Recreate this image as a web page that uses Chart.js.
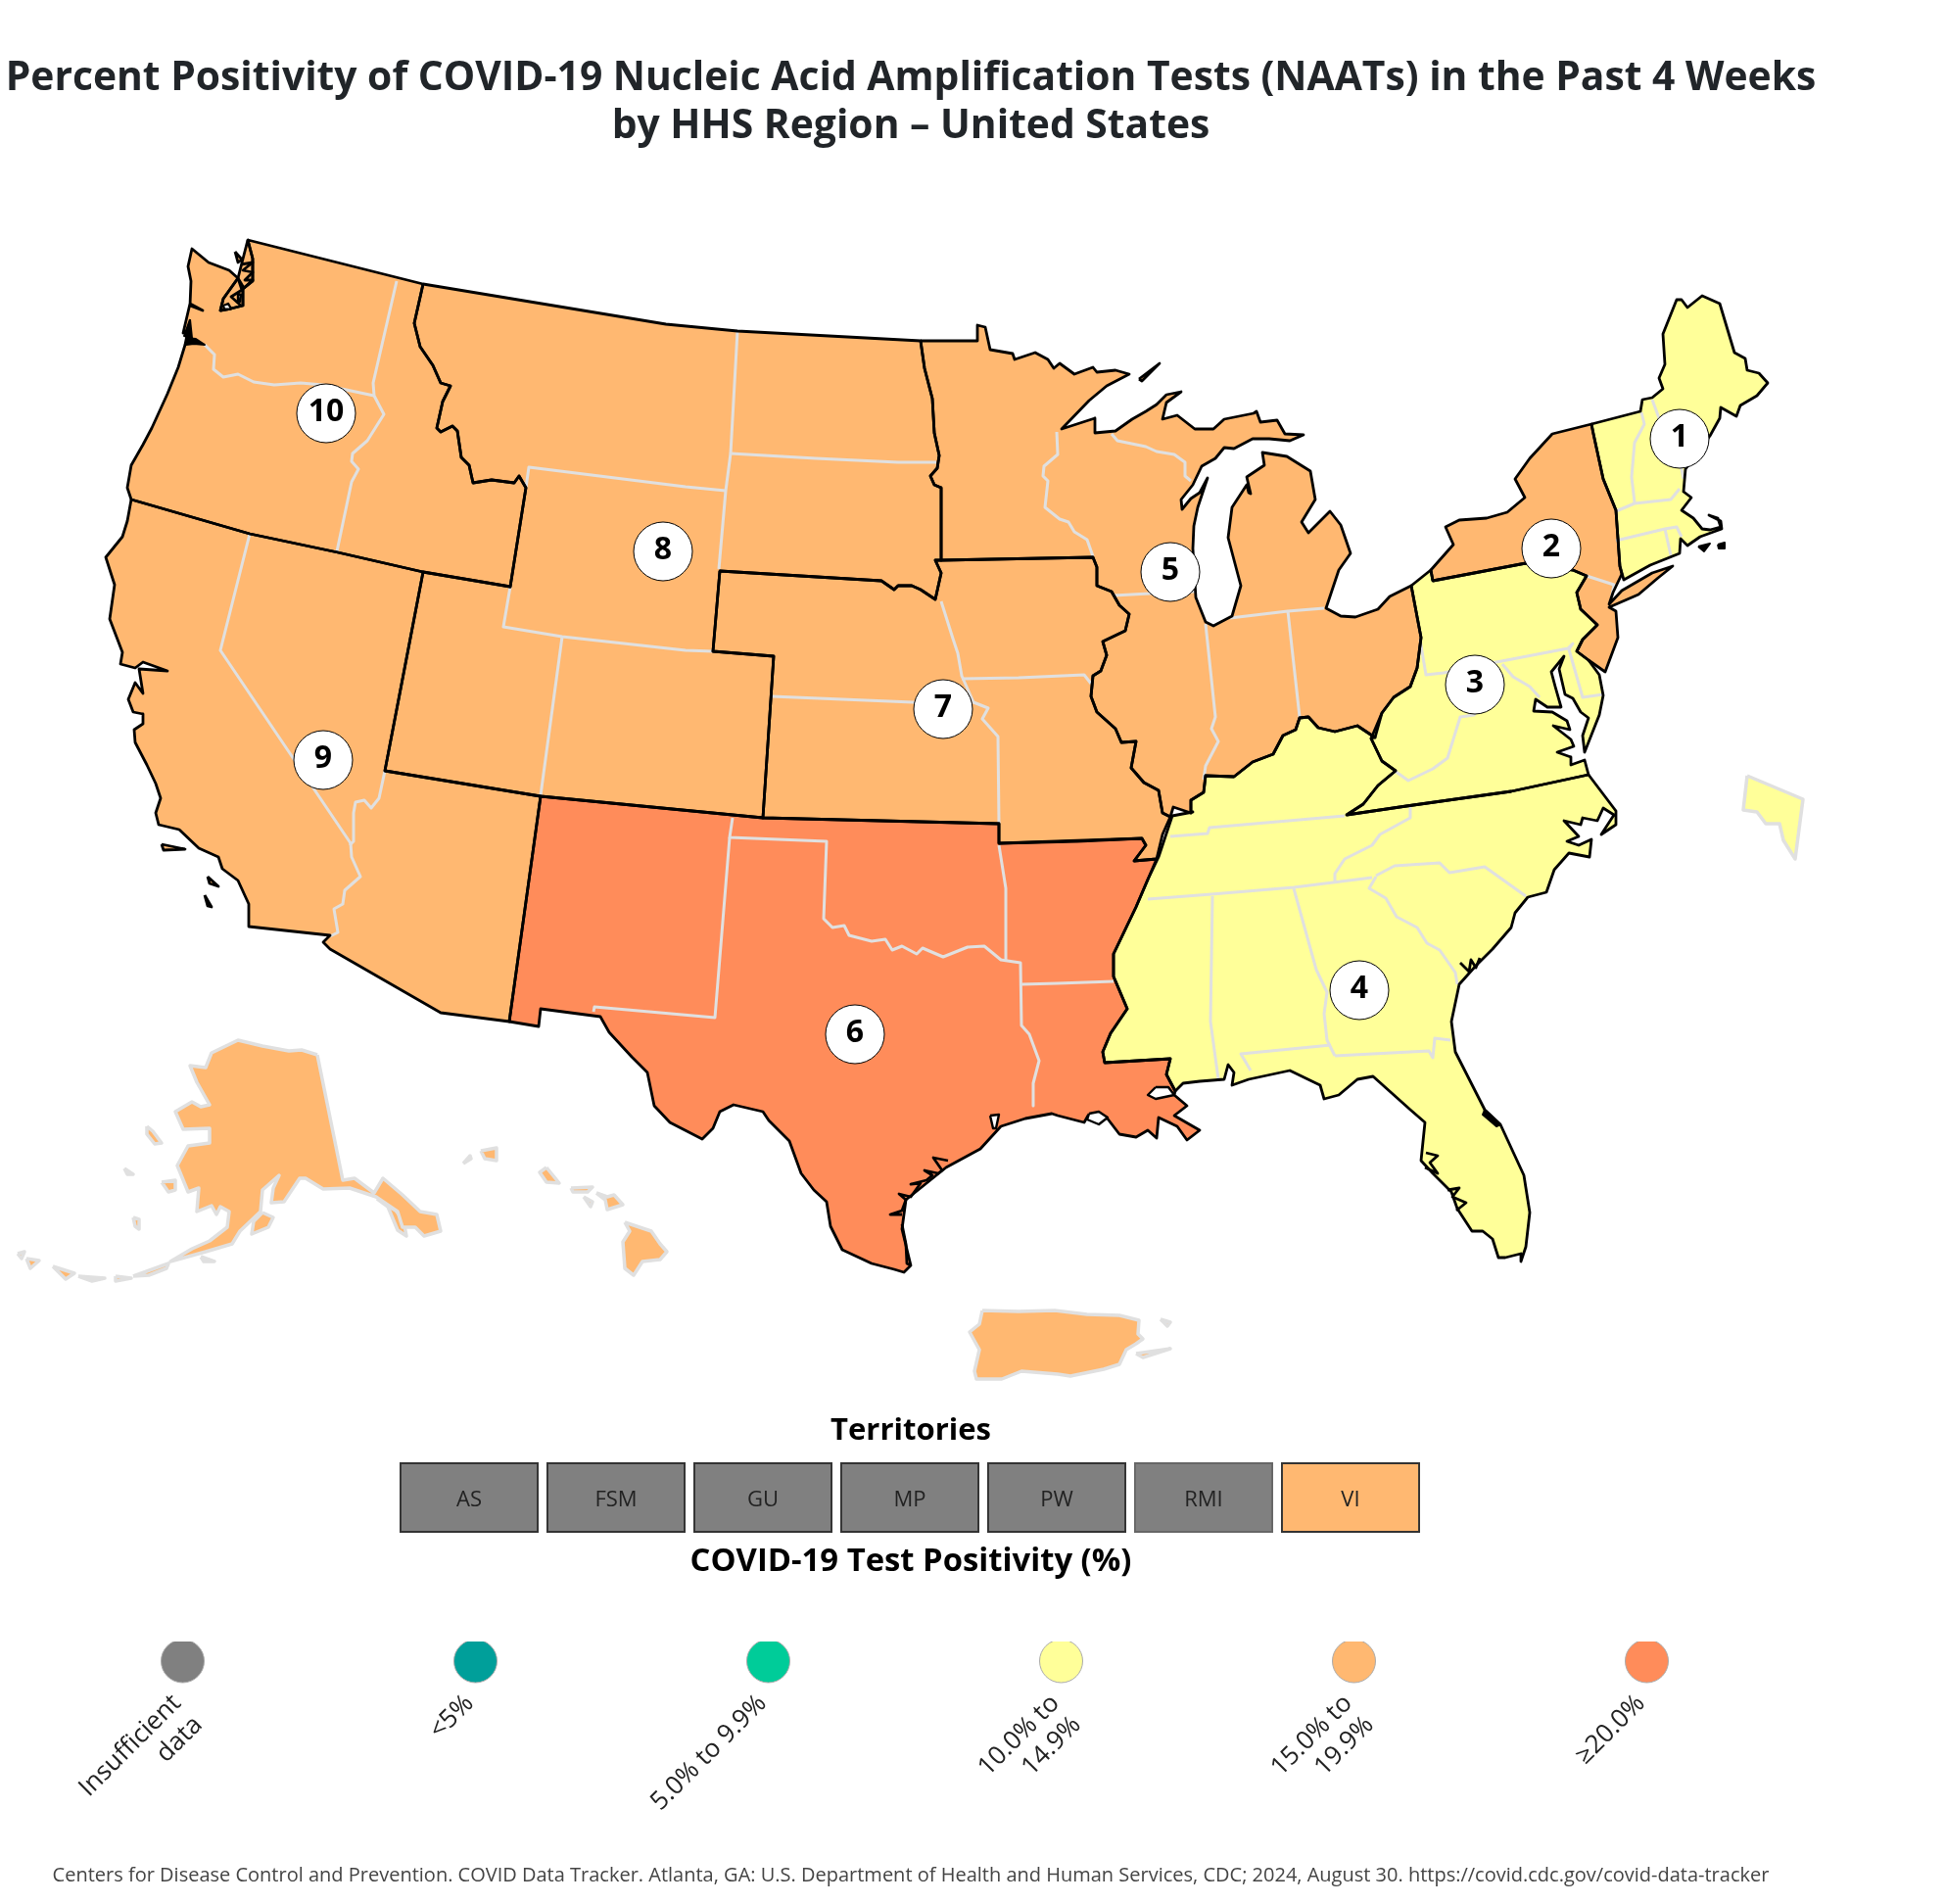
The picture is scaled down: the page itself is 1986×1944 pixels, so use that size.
<!DOCTYPE html>
<html>
<head>
<meta charset="utf-8">
<script src="https://cdn.jsdelivr.net/npm/chart.js@4/dist/chart.umd.js"></script>
<style>
  html, body { margin: 0; padding: 0; background: #fff; }
  body { position: relative; width: 1986px; height: 1944px; overflow: hidden; font-family: "Open Sans", sans-serif; }
  canvas { position: absolute; }
  .txt { position: absolute; left: 0; width: 1860px; text-align: center; white-space: nowrap; margin: 0; }
  #title { top: 52px; font-size: 40.8px; line-height: 49.4px; font-weight: 700; color: #212529; }
  .head { line-height: 40px; font-weight: 700; color: #000; }
  #terrHead { top: 1438px; font-size: 31px; }
  #posHead { top: 1572px; font-size: 32.8px; }
  #foot { top: 1901px; font-size: 20px; line-height: 26px; color: #444; }
</style>
</head>
<body>
<canvas id="mapChart" width="1986" height="1944" style="left:0;top:0"></canvas>
<canvas id="terrChart" width="1050" height="76" style="left:404px;top:1491px"></canvas>
<canvas id="legendChart" width="1794" height="210" style="left:37px;top:1676px"></canvas>
<h1 id="title" class="txt">Percent Positivity of COVID-19 Nucleic Acid Amplification Tests (NAATs) in the Past 4 Weeks<br>by HHS Region – United States</h1>
<div id="terrHead" class="txt head">Territories</div>
<div id="posHead" class="txt head">COVID-19 Test Positivity (%)</div>
<div id="foot" class="txt">Centers for Disease Control and Prevention. COVID Data Tracker. Atlanta, GA: U.S. Department of Health and Human Services, CDC; 2024, August 30. https://covid.cdc.gov/covid-data-tracker</div>
<script>
// legend bins
const legendLabels = [["Insufficient", "data"], "<5%", "5.0% to 9.9%", ["10.0% to", "14.9%"], ["15.0% to", "19.9%"], "≥20.0%"];
const legendColors = ["#808080", "#009f9a", "#00cc99", "#ffff99", "#ffb871", "#ff8c5a"];
const legendDots = [1, 1, 1, 1, 1, 1];

// bin index per HHS region, 1 to 10
const regionBins = [3, 4, 3, 3, 4, 5, 4, 4, 4, 4];
const regionNumbers = ["1", "2", "3", "4", "5", "6", "7", "8", "9", "10"];
const regionMarkX = [1715, 1584, 1506, 1388, 1195, 873, 963, 677, 330, 333];
const regionMarkY = [448, 560, 699, 1011, 584, 1056, 724, 563, 776, 422];

// territories row
const territoryLabels = ["AS", "FSM", "GU", "MP", "PW", "RMI", "VI"];
const territoryBins = [0, 0, 0, 0, 0, 0, 4];
const territoryHeights = [1, 1, 1, 1, 1, 1, 1];

// region outlines
const region1 = [[1625,433],[1675,420],[1677,408],[1687,406],[1698,397],[1694,386],[1700,372],[1698,341],[1712,306],[1717,306],[1723,314],[1738,302],[1756,310],[1771,360],[1782,366],[1784,378],[1796,381],[1805,391],[1794,404],[1777,414],[1773,425],[1757,416],[1756,427],[1746,445],[1721,479],[1719,502],[1727,508],[1717,521],[1729,529],[1738,540],[1746,541],[1757,538],[1754,529],[1745,526],[1757,532],[1758,540],[1736,548],[1723,557],[1716,550],[1715,565],[1685,577],[1658,592],[1654,578],[1650,521],[1637,489],[1627,443]];
const marthasVineyard = [[1734,558],[1746,555],[1740,563]];
const nantucket = [[1754,556],[1761,554],[1761,560],[1755,560]];
const region2 = [[1463,593],[1461,582],[1484,556],[1476,538],[1490,531],[1518,529],[1539,523],[1557,508],[1547,489],[1562,468],[1585,443],[1625,433],[1627,443],[1637,489],[1650,521],[1654,578],[1656,586],[1647,605],[1643,617],[1656,603],[1687,585],[1708,578],[1693,590],[1673,607],[1643,620],[1650,624],[1652,651],[1639,686],[1622,674],[1610,665],[1616,653],[1631,638],[1614,622],[1610,605],[1620,588],[1606,582],[1558,575]];
const region3 = [[1441,598],[1461,582],[1463,593],[1558,575],[1606,582],[1620,588],[1610,605],[1614,622],[1631,638],[1616,653],[1610,665],[1622,674],[1633,689],[1637,710],[1633,730],[1618,768],[1616,751],[1622,733],[1614,727],[1606,713],[1598,709],[1592,683],[1597,670],[1584,686],[1588,701],[1594,722],[1580,722],[1568,714],[1566,726],[1585,727],[1600,736],[1603,745],[1586,741],[1604,755],[1607,762],[1590,768],[1604,773],[1604,781],[1618,776],[1622,791],[1543,808],[1436,823],[1375,832],[1392,821],[1407,802],[1425,787],[1411,777],[1400,754],[1411,728],[1423,712],[1440,701],[1447,682],[1451,651]];
const region4 = [[1375,832],[1436,823],[1543,808],[1622,791],[1650,828],[1650,842],[1635,852],[1648,832],[1637,825],[1631,838],[1616,835],[1614,842],[1597,838],[1612,854],[1600,859],[1612,863],[1625,857],[1623,875],[1602,871],[1587,888],[1579,911],[1560,916],[1547,932],[1543,947],[1524,969],[1507,986],[1490,1005],[1482,1043],[1486,1074],[1516,1133],[1532,1148],[1556,1200],[1562,1238],[1558,1273],[1553,1288],[1553,1280],[1537,1284],[1530,1284],[1524,1265],[1514,1257],[1503,1257],[1488,1234],[1482,1217],[1463,1198],[1451,1185],[1455,1146],[1440,1133],[1421,1116],[1402,1099],[1386,1102],[1367,1118],[1352,1122],[1348,1108],[1317,1093],[1275,1102],[1258,1108],[1260,1095],[1254,1087],[1250,1102],[1225,1104],[1208,1106],[1200,1114],[1191,1097],[1195,1081],[1128,1085],[1126,1074],[1134,1055],[1151,1030],[1137,997],[1137,974],[1160,926],[1172,898],[1183,875],[1197,833],[1218,829],[1216,830],[1216,817],[1229,809],[1231,792],[1260,793],[1279,778],[1300,770],[1310,751],[1323,745],[1327,733],[1336,732],[1346,743],[1363,747],[1386,741],[1404,753],[1400,754],[1411,777],[1425,787],[1407,802],[1392,821]];
const indianRiver = [[1516,1133],[1532,1148],[1528,1150],[1514,1138]];
const tampaBay = [[1456,1177],[1468,1180],[1460,1187],[1468,1198],[1455,1192]];
const charlotteHarbor = [[1478,1215],[1490,1213],[1483,1222],[1497,1228],[1487,1236]];
const georgiaSounds = [[1491,983],[1500,992],[1502,980],[1507,988],[1511,978]];
const region5 = [[940,348],[998,348],[998,332],[1006,334],[1011,357],[1034,361],[1036,367],[1057,360],[1070,367],[1076,376],[1082,371],[1097,382],[1116,375],[1120,380],[1139,378],[1153,382],[1130,394],[1112,409],[1084,438],[1118,427],[1118,442],[1139,440],[1156,428],[1170,420],[1181,413],[1191,403],[1206,400],[1191,411],[1187,428],[1202,424],[1220,438],[1239,438],[1250,428],[1280,422],[1283,420],[1287,431],[1304,429],[1312,443],[1331,444],[1317,450],[1296,448],[1279,448],[1260,458],[1250,457],[1241,468],[1227,476],[1218,495],[1206,510],[1207,520],[1216,509],[1225,503],[1233,488],[1223,518],[1219,537],[1218,560],[1221,610],[1231,635],[1239,639],[1258,629],[1267,598],[1254,549],[1258,518],[1273,495],[1275,503],[1277,504],[1273,487],[1291,475],[1289,462],[1314,466],[1338,481],[1343,510],[1329,533],[1336,544],[1358,522],[1369,536],[1379,565],[1367,582],[1354,621],[1369,629],[1384,630],[1407,622],[1419,609],[1441,598],[1451,651],[1447,682],[1440,701],[1423,712],[1411,728],[1404,753],[1386,741],[1363,747],[1346,743],[1336,732],[1327,733],[1323,745],[1310,751],[1300,770],[1279,778],[1260,793],[1231,792],[1229,809],[1216,817],[1216,830],[1198,824],[1195,834],[1187,830],[1183,807],[1168,799],[1155,784],[1160,757],[1145,758],[1139,744],[1120,727],[1114,711],[1116,690],[1124,685],[1130,669],[1126,655],[1149,644],[1153,627],[1143,618],[1135,604],[1120,598],[1120,579],[1116,569],[961,572],[961,498],[954,495],[950,486],[957,478],[959,465],[954,442],[952,407],[944,376]];
const isleRoyale = [[1163,387],[1184,371],[1173,382],[1166,389]];
const region6 = [[552,813],[779,835],[1020,841],[1020,861],[1100,859],[1166,856],[1170,863],[1158,879],[1181,877],[1172,898],[1160,926],[1137,974],[1137,997],[1151,1030],[1134,1055],[1126,1074],[1128,1085],[1195,1081],[1191,1097],[1200,1114],[1199,1118],[1212,1129],[1199,1139],[1225,1154],[1212,1164],[1202,1150],[1183,1141],[1181,1162],[1172,1154],[1160,1161],[1143,1158],[1130,1141],[1111,1139],[1107,1146],[1080,1139],[1074,1137],[1047,1142],[1022,1150],[1001,1173],[966,1192],[925,1225],[921,1255],[930,1292],[923,1299],[913,1296],[890,1290],[860,1276],[848,1252],[844,1227],[831,1215],[818,1198],[806,1165],[785,1144],[779,1135],[749,1128],[735,1135],[728,1152],[717,1163],[684,1146],[668,1129],[661,1095],[645,1079],[622,1054],[613,1038],[552,1030],[550,1048],[520,1043]];
const pontchartrain = [[1180,1110],[1172,1118],[1180,1122],[1199,1118],[1193,1110]];
const vermilionBay = [[1112,1137],[1122,1135],[1131,1141],[1122,1148],[1110,1143]];
const sabineLake = [[1011,1139],[1020,1138],[1017,1152],[1014,1152]];
const texasBays = [[921,1240],[909,1240],[921,1236],[925,1225],[918,1219],[930,1222],[940,1208],[930,1209],[946,1205],[952,1200],[944,1195],[958,1198],[962,1195],[953,1182],[968,1185]];
const padreIsland = [[921,1250],[925,1270],[926,1290],[930,1292]];
const region7 = [[735,583],[900,593],[913,602],[917,598],[931,598],[940,602],[955,612],[961,585],[955,572],[961,572],[1116,569],[1120,579],[1120,598],[1135,604],[1143,618],[1153,627],[1149,644],[1126,655],[1130,669],[1124,685],[1116,690],[1114,711],[1120,727],[1139,744],[1145,758],[1160,757],[1155,784],[1168,799],[1183,807],[1187,830],[1195,834],[1187,852],[1181,877],[1158,879],[1170,863],[1166,856],[1020,861],[1020,841],[779,835],[790,670],[728,665]];
const region8 = [[432,290],[680,331],[753,338],[940,348],[944,376],[952,407],[954,442],[959,465],[957,478],[950,486],[954,495],[961,498],[961,572],[955,572],[961,585],[955,612],[940,602],[931,598],[917,598],[913,602],[900,593],[735,583],[728,665],[790,670],[779,835],[552,813],[393,787],[432,584],[521,599],[537,498],[530,486],[525,493],[502,490],[483,493],[479,475],[471,467],[467,440],[462,435],[450,441],[446,437],[452,410],[460,394],[450,391],[442,373],[429,354],[423,330]];
const region9 = [[134,510],[130,532],[125,548],[108,569],[117,597],[112,632],[125,666],[123,678],[138,682],[146,676],[171,685],[142,683],[146,708],[138,697],[131,714],[136,727],[146,729],[146,739],[137,745],[138,758],[150,781],[159,800],[164,815],[159,830],[162,842],[183,847],[203,866],[223,875],[227,887],[243,899],[254,923],[254,946],[337,955],[330,962],[337,969],[450,1034],[520,1043],[552,813],[393,787],[432,584],[345,564],[255,545]];
const channelIsland1 = [[165,862],[189,867],[167,868]];
const channelIsland2 = [[212,895],[223,905],[214,902]];
const channelIsland3 = [[209,914],[216,926],[212,925]];
const region10 = [[253,245],[432,290],[423,330],[429,354],[442,373],[450,391],[460,394],[452,410],[446,437],[450,441],[462,435],[467,440],[471,467],[479,475],[483,493],[502,490],[525,493],[530,486],[537,498],[521,599],[432,584],[345,564],[255,545],[134,510],[130,498],[134,475],[146,454],[155,437],[171,402],[182,375],[189,352],[192,337],[187,340],[194,310],[207,317],[194,312],[195,287],[192,272],[196,254],[213,268],[234,276],[243,284],[228,305],[225,317],[236,315],[248,312],[248,295],[258,287],[258,264]];
const sanJuan = [[240,257],[247,265],[243,268]];
const pugetMesh = [[246,270],[258,268],[248,276],[258,278],[250,286],[258,286],[249,294],[243,284],[247,296],[236,303],[246,312]];
const pugetHole1 = [[228,312],[233,310],[236,315],[229,316]];
const pugetHole2 = [[243,300],[246,301],[245,308],[243,307]];
const willapaBay = [[194,326],[196,345],[188,343]];
const columbiaMouth = [[190,345],[200,346],[209,352],[198,351],[190,352]];

// inner state lines
const stateLines = [
  [[209,352],[219,362],[218,377],[228,385],[243,382],[259,390],[280,393],[307,391],[330,393],[382,404]],
  [[405,287],[381,391],[382,404],[392,423],[375,450],[360,463],[359,471],[366,479],[359,492],[344,563]],
  [[753,338],[746,463],[741,501],[734,581]],
  [[746,463],[833,468],[917,472],[956,472]],
  [[537,498],[540,477],[700,497],[741,501]],
  [[521,599],[514,640],[574,650],[700,664],[728,665]],
  [[574,650],[552,812]],
  [[961,614],[973,652],[978,667],[982,690],[994,717],[1009,723],[1003,734],[1019,752],[1020,841]],
  [[982,693],[1040,692],[1107,689],[1114,698]],
  [[788,711],[932,717],[986,719]],
  [[1079,441],[1080,464],[1066,476],[1065,486],[1070,491],[1067,518],[1082,530],[1091,533],[1097,543],[1110,551],[1116,568]],
  [[1135,443],[1141,450],[1170,456],[1181,461],[1199,464],[1210,472],[1210,486],[1216,491]],
  [[1137,608],[1174,606],[1220,604]],
  [[1231,637],[1241,732],[1237,744],[1244,757],[1231,782],[1229,796]],
  [[1256,631],[1315,624],[1352,621]],
  [[1315,624],[1327,732]],
  [[1450,653],[1456,689],[1474,687],[1528,676],[1601,662],[1606,657],[1602,663],[1616,712],[1637,709]],
  [[1534,678],[1545,691],[1562,701],[1572,712]],
  [[1535,689],[1505,730],[1491,732],[1478,774],[1463,785],[1438,797],[1424,787]],
  [[1620,588],[1648,597],[1645,613]],
  [[1676,421],[1679,433],[1669,452],[1666,487],[1669,513]],
  [[1687,408],[1694,427],[1717,479],[1719,489]],
  [[1650,522],[1669,514],[1706,510],[1715,499]],
  [[1650,552],[1700,540],[1712,538],[1717,548]],
  [[1700,540],[1706,567]],
  [[1195,854],[1233,851],[1235,845],[1373,833]],
  [[1440,825],[1440,835],[1409,852],[1401,863],[1373,877],[1363,892],[1363,900]],
  [[1172,918],[1237,913],[1321,906],[1401,896]],
  [[1238,915],[1236,1043],[1244,1102]],
  [[1321,907],[1344,990],[1355,1013],[1352,1035],[1355,1062],[1363,1078]],
  [[1277,1093],[1267,1076],[1359,1067]],
  [[1363,1078],[1459,1073],[1463,1080],[1465,1060],[1481,1062]],
  [[1405,894],[1424,884],[1470,881],[1480,891],[1516,885],[1558,915]],
  [[1405,895],[1398,907],[1415,917],[1426,936],[1447,947],[1457,963],[1470,970],[1486,993],[1488,1005]],
  [[748,835],[745,855],[844,859],[841,938],[850,947],[862,945],[867,955],[890,961],[904,959],[911,970],[921,966],[936,974],[942,968],[963,977],[988,967],[1005,966],[1022,980],[1042,983],[1043,1047],[1051,1056],[1061,1083],[1055,1106],[1055,1129]],
  [[745,855],[730,1039],[607,1028],[606,1033]],
  [[1020,863],[1027,907],[1027,980]],
  [[1043,1005],[1080,1004],[1137,1002]],
  [[255,545],[225,664],[358,861],[359,875],[368,895],[352,909],[350,923],[341,928],[345,952],[337,956]],
  [[393,787],[387,815],[379,825],[372,817],[363,819],[361,830],[361,859],[357,863]]
];

// Alaska, Hawaii, Puerto Rico, Virgin Islands and the DC inset
const alaskaBin = 4;
const alaskaParts = [
  [[324,1077],[350,1205],[362,1203],[382,1218],[391,1203],[411,1220],[429,1237],[446,1240],[450,1257],[433,1262],[424,1253],[411,1253],[406,1237],[384,1222],[357,1213],[330,1214],[312,1203],[306,1203],[290,1227],[277,1228],[279,1213],[285,1200],[268,1215],[266,1237],[245,1257],[237,1270],[210,1278],[174,1288],[196,1275],[214,1267],[232,1253],[234,1237],[225,1232],[221,1240],[216,1231],[201,1237],[203,1213],[192,1217],[181,1190],[192,1170],[214,1167],[214,1152],[187,1153],[179,1135],[196,1125],[205,1130],[214,1128],[201,1105],[194,1088],[210,1090],[216,1075],[243,1062],[268,1068],[295,1073],[308,1072]],
  [[385,1224],[396,1232],[406,1256],[415,1262],[412,1246],[404,1236]],
  [[268,1238],[279,1243],[274,1253],[257,1260],[259,1247]],
  [[150,1150],[156,1155],[165,1167],[158,1168],[150,1158]],
  [[165,1207],[179,1205],[179,1215],[172,1217]],
  [[54,1293],[76,1300],[67,1306]],
  [[80,1303],[107,1305],[94,1308]],
  [[118,1303],[134,1305],[118,1308]],
  [[136,1303],[172,1290],[170,1295],[152,1302]],
  [[18,1280],[25,1278],[22,1285]],
  [[27,1285],[40,1287],[31,1295]],
  [[127,1193],[136,1199],[130,1199]],
  [[136,1243],[142,1245],[142,1255],[138,1252]],
  [[205,1283],[219,1288],[208,1288]]
];
const hawaiiBin = 4;
const hawaiiParts = [
  [[638,1248],[665,1257],[674,1270],[681,1278],[674,1286],[656,1288],[647,1302],[638,1295],[636,1268],[643,1257]],
  [[609,1218],[620,1222],[627,1220],[636,1230],[620,1235],[618,1225]],
  [[583,1213],[605,1212],[600,1217],[585,1217]],
  [[596,1222],[605,1227],[603,1232]],
  [[558,1192],[567,1203],[571,1208],[558,1207],[551,1197]],
  [[491,1175],[507,1172],[507,1185],[495,1183]],
  [[473,1188],[480,1180],[481,1183]]
];
const puertoRicoBin = 4;
const puertoRicoParts = [
  [[1003,1338],[1040,1339],[1077,1338],[1110,1342],[1143,1343],[1163,1348],[1162,1362],[1167,1367],[1160,1372],[1150,1378],[1143,1393],[1127,1398],[1093,1405],[1080,1403],[1043,1400],[1023,1408],[997,1408],[995,1400],[1000,1378],[990,1360],[1000,1352]],
  [[1160,1382],[1195,1377],[1167,1386]],
  [[1185,1347],[1195,1350],[1192,1354]]
];
const dcBin = 3;
const dcInset = [[1784,792],[1841,816],[1833,877],[1821,858],[1817,841],[1803,841],[1794,829],[1780,827]];

function toPoints(list, close) {
  const pts = list.map(function (p) { return { x: p[0], y: p[1] }; });
  if (close) pts.push(pts[0]);
  return pts;
}

function shape(list, color, line, lineWidth, order) {
  return {
    type: "scatter",
    data: toPoints(list, true),
    showLine: true,
    fill: "shape",
    backgroundColor: color,
    borderColor: line,
    borderWidth: lineWidth,
    borderJoinStyle: "round",
    pointRadius: 0,
    tension: 0,
    clip: false,
    order: order,
  };
}

function stroke(list, line, lineWidth, order) {
  return {
    type: "scatter",
    data: toPoints(list, false),
    showLine: true,
    fill: false,
    borderColor: line,
    borderWidth: lineWidth,
    borderJoinStyle: "round",
    pointRadius: 0,
    tension: 0,
    clip: false,
    order: order,
  };
}

const BLACK = "#000000";
const GREY = "#e0e0e0";
const regions = [region1, region2, region3, region4, region5, region6, region7, region8, region9, region10];

const mapDatasets = [];
// fills first, then grey state lines, then black region lines
regions.forEach(function (r, i) {
  mapDatasets.push(shape(r, legendColors[regionBins[i]], legendColors[regionBins[i]], 1, 6));
  mapDatasets.push(shape(r, "rgba(0,0,0,0)", BLACK, 2.8, 3));
});
stateLines.forEach(function (l) {
  mapDatasets.push(stroke(l, GREY, 3, 4));
});
// puget sound is mostly land colour behind its mesh of shoreline
mapDatasets.push(shape([[243,284],[228,305],[225,317],[236,315],[248,312],[248,295],[258,287],[258,264],[253,245]], legendColors[4], BLACK, 2.8, 3));
[marthasVineyard, nantucket, willapaBay, columbiaMouth, indianRiver].forEach(function (p) {
  mapDatasets.push(shape(p, BLACK, BLACK, 2, 2));
});
[channelIsland1, channelIsland2, channelIsland3, sanJuan, isleRoyale].forEach(function (p) {
  mapDatasets.push(shape(p, legendColors[4], BLACK, 2.8, 2));
});
[pontchartrain, vermilionBay, sabineLake, pugetHole1, pugetHole2].forEach(function (p) {
  mapDatasets.push(shape(p, "#ffffff", BLACK, 2.4, 2));
});
[texasBays, padreIsland, pugetMesh, tampaBay, charlotteHarbor, georgiaSounds].forEach(function (l) {
  mapDatasets.push(stroke(l, BLACK, 2.8, 2));
});
alaskaParts.forEach(function (p) { mapDatasets.push(shape(p, legendColors[alaskaBin], GREY, 3.5, 5)); });
hawaiiParts.forEach(function (p) { mapDatasets.push(shape(p, legendColors[hawaiiBin], GREY, 3.5, 5)); });
puertoRicoParts.forEach(function (p) { mapDatasets.push(shape(p, legendColors[puertoRicoBin], GREY, 3.5, 5)); });
mapDatasets.push(shape(dcInset, legendColors[dcBin], GREY, 3.5, 5));
// numbered circles on top
mapDatasets.push({
  type: "scatter",
  data: regionMarkX.map(function (x, i) { return { x: x, y: regionMarkY[i] }; }),
  backgroundColor: "#ffffff",
  borderColor: BLACK,
  borderWidth: 1,
  pointRadius: 30,
  clip: false,
  order: 1,
});

const regionNumberPlugin = {
  id: "regionNumbers",
  afterDraw(chart) {
    const c = chart.ctx;
    c.save();
    c.font = "700 32px 'Open Sans'";
    c.fillStyle = "#000";
    c.textAlign = "center";
    c.textBaseline = "middle";
    regionNumbers.forEach(function (n, i) {
      c.fillText(n, chart.scales.x.getPixelForValue(regionMarkX[i]), chart.scales.y.getPixelForValue(regionMarkY[i]) - 1);
    });
    c.restore();
  },
};

const mapChart = new Chart(document.getElementById("mapChart").getContext("2d"), {
  data: { datasets: mapDatasets },
  options: {
    responsive: false,
    animation: false,
    events: [],
    layout: { padding: 0, autoPadding: false },
    plugins: { legend: { display: false }, tooltip: { enabled: false } },
    scales: {
      x: { type: "linear", min: 0, max: 1986, display: false },
      y: { type: "linear", min: 0, max: 1944, reverse: true, display: false },
    },
  },
  plugins: [regionNumberPlugin],
});

const territoryTextPlugin = {
  id: "territoryText",
  afterDatasetsDraw(chart) {
    const c = chart.ctx;
    c.save();
    c.font = "22px 'Open Sans'";
    c.fillStyle = "#222";
    c.textAlign = "center";
    c.textBaseline = "middle";
    chart.getDatasetMeta(0).data.forEach(function (bar, i) {
      c.fillText(territoryLabels[i], bar.x, chart.chartArea.top + 39);
    });
    c.restore();
  },
};

const terrChart = new Chart(document.getElementById("terrChart").getContext("2d"), {
  type: "bar",
  data: {
    labels: territoryLabels,
    datasets: [
      {
        data: territoryHeights,
        backgroundColor: territoryBins.map(function (b) { return legendColors[b]; }),
        borderColor: ["#333", "#333", "#333", "#333", "#333", "#666", "#333"],
        borderWidth: 2,
        borderSkipped: false,
        barPercentage: 0.947,
        categoryPercentage: 1,
      },
    ],
  },
  options: {
    responsive: false,
    animation: false,
    events: [],
    layout: { padding: { top: 2, bottom: 2 }, autoPadding: false },
    plugins: { legend: { display: false }, tooltip: { enabled: false } },
    scales: {
      x: { display: false },
      y: { display: false, min: 0, max: 1 },
    },
  },
  plugins: [territoryTextPlugin],
});

const legendChart = new Chart(document.getElementById("legendChart").getContext("2d"), {
  type: "scatter",
  data: {
    labels: legendLabels,
    datasets: [
      {
        data: legendDots,
        backgroundColor: legendColors,
        borderColor: "#aaaaaa",
        borderWidth: 1,
        pointRadius: 22,
        clip: false,
      },
    ],
  },
  options: {
    responsive: false,
    animation: false,
    events: [],
    layout: { padding: 0, autoPadding: false },
    plugins: { legend: { display: false }, tooltip: { enabled: false } },
    scales: {
      x: {
        type: "category",
        offset: true,
        grid: { display: false },
        border: { display: false },
        afterFit(scale) {
          scale.height = 170;
        },
        ticks: { autoSkip: false, minRotation: 45, maxRotation: 45, padding: 0, labelOffset: -6, color: "#222", font: { family: "'Open Sans'", size: 26 } },
      },
      y: { display: false, min: 0, max: 2 },
    },
  },
});
</script>
</body>
</html>
